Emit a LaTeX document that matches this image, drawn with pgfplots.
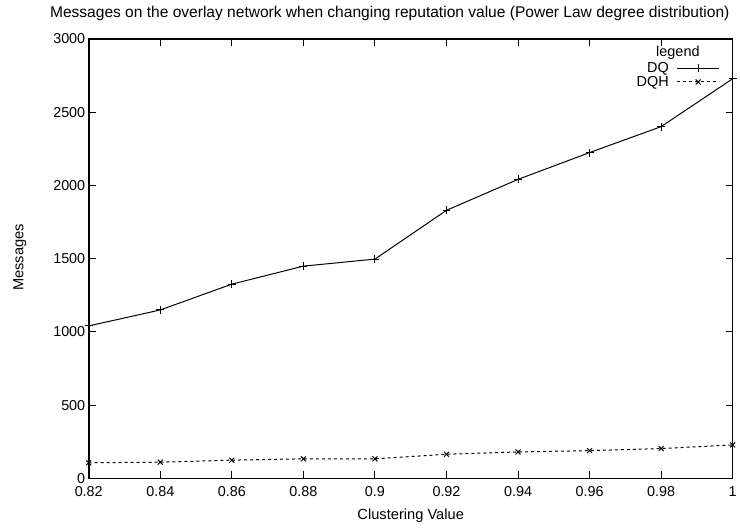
\documentclass[border=0pt]{standalone}
\usepackage{pgfplots}
\pgfplotsset{compat=1.18}
\usepackage{fontspec}
\setmainfont{Liberation Sans}
\begin{document}
\begin{tikzpicture}
\begin{axis}[
  scale only axis,
  width=646pt, height=441pt,
  xmin=0.82, xmax=1, ymin=0, ymax=3000,
  xtick={0.82,0.84,0.86,0.88,0.9,0.92,0.94,0.96,0.98,1},
  xticklabels={0.82,0.84,0.86,0.88,0.9,0.92,0.94,0.96,0.98,1},
  ytick={0,500,1000,1500,2000,2500,3000},
  scaled ticks=false,
  /pgf/number format/set thousands separator={},
  /pgf/number format/assume math mode=true,
  tick label style={font=\fontsize{14.4}{16}\selectfont},
  xticklabel style={yshift=-5pt},
  xtick pos=both, ytick pos=both,
  tick align=inside,
  major tick length=7pt,
  tick style={line width=1pt, black},
  axis line style={line width=1.6pt},
  clip=false,
  legend style={draw=none, fill=none, at={(axis description cs:0.980,0.951)}, anchor=north east,
    font=\fontsize{14.5}{15}\selectfont, row sep=-2pt, column sep=6pt, inner sep=0pt},
  legend cell align=right,
  legend plot pos=right,
  legend image code/.code={\draw[mark repeat=2,mark phase=2,#1] plot coordinates {(0pt,0pt) (21pt,0pt) (42pt,0pt)};},
]
\path (axis description cs:-0.1378,-0.1111) rectangle (axis description cs:1.0077,1.0884);
\node[font=\fontsize{15.6}{17}\selectfont] at (axis description cs:0.4675,1.0567) {Messages on the overlay network when changing reputation value (Power Law degree distribution)};
\node[font=\fontsize{14.7}{16}\selectfont] at (axis description cs:0.5,-0.0839) {Clustering Value};
\node[font=\fontsize{14.7}{16}\selectfont, rotate=90] at (axis description cs:-0.1068,0.503) {Messages};
\node[font=\fontsize{14.5}{16}\selectfont] at (axis description cs:0.9149,0.9683) {legend};
\addplot[black, line width=1pt, mark=+, mark size=4pt, mark options={solid}] coordinates {
(0.82,1041) (0.84,1150) (0.86,1326) (0.88,1449) (0.9,1497) (0.92,1830) (0.94,2041) (0.96,2224) (0.98,2401) (1,2728)};
\addlegendentry{DQ}
\addplot[black, line width=1pt, dashed, mark=x, mark size=3.5pt, mark options={solid}] coordinates {
(0.82,107) (0.84,111) (0.86,125) (0.88,134) (0.9,134) (0.92,165) (0.94,181) (0.96,190) (0.98,204) (1,229)};
\addlegendentry{DQH}
\end{axis}
\end{tikzpicture}
\end{document}
